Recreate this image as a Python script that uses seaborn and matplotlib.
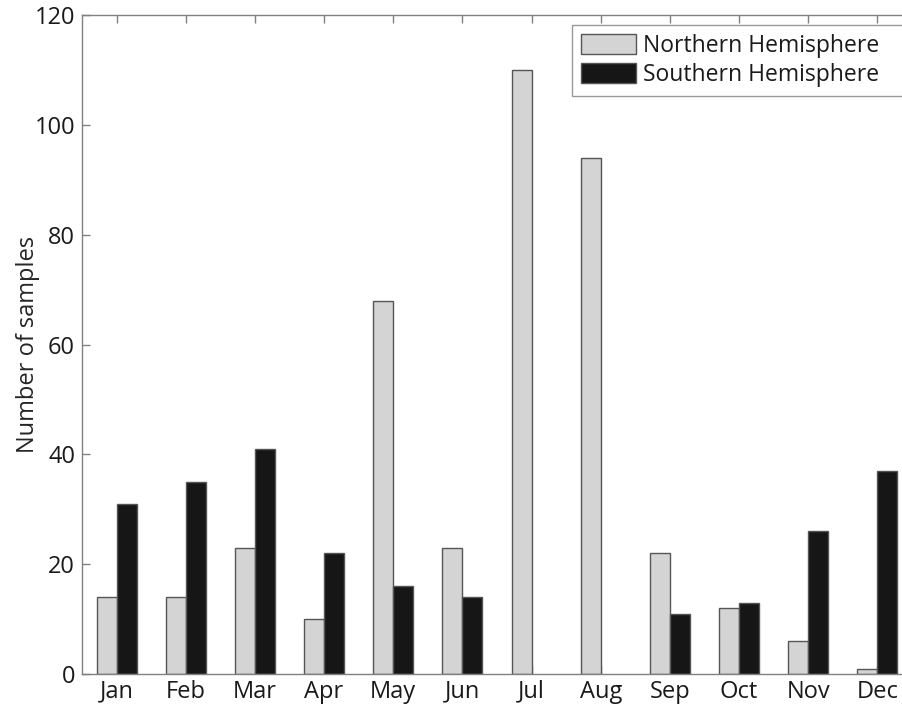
import matplotlib
matplotlib.use("Agg")
import matplotlib.pyplot as plt
from matplotlib.patches import Patch
import seaborn as sns
import pandas as pd

months = ["Jan", "Feb", "Mar", "Apr", "May", "Jun",
          "Jul", "Aug", "Sep", "Oct", "Nov", "Dec"]
northern = [14, 14, 23, 10, 68, 23, 110, 94, 22, 12, 6, 1]
southern = [31, 35, 41, 22, 16, 14, 0, 0, 11, 13, 26, 37]
series = ["Northern Hemisphere", "Southern Hemisphere"]
yticks = [0, 20, 40, 60, 80, 100, 120]
colors = {series[0]: "#d4d4d4", series[1]: "#161616"}
edge = "#555555"

df = pd.DataFrame({
    "month": months * 2,
    "count": northern + southern,
    "hemisphere": [series[0]] * 12 + [series[1]] * 12,
})

sns.set_style("white")
plt.rcParams["font.family"] = ["Open Sans", "DejaVu Sans"]

fig = plt.figure(figsize=(9.02, 7.08), dpi=100)
W, H = 902, 708
left, right, top, bottom = 82, 912, 15, 674
aw, ah = right - left, bottom - top
ax = fig.add_axes([left / W, 1 - bottom / H, aw / W, ah / H])

sns.barplot(data=df, x="month", y="count", hue="hemisphere",
            hue_order=series, order=months, palette=colors,
            width=0.58, gap=0, saturation=1, errorbar=None,
            edgecolor=edge, linewidth=1.0, legend=False, ax=ax)

# empty months get no outline
for container in ax.containers:
    for bar in container:
        if bar.get_height() == 0:
            bar.set_visible(False)

ax.set_xlim(-0.5, 11.5)
ax.set_ylim(0, 120)
ax.set_yticks(yticks)
ax.set_xlabel("")
ax.set_ylabel("Number of samples", fontsize=17, labelpad=-4)

for s in ax.spines.values():
    s.set_color("#808080")
    s.set_linewidth(1.0)
    s.set_visible(True)

ax.tick_params(axis="both", direction="in", length=6, width=1, color="#808080",
               labelsize=17, labelcolor="#1a1a1a", top=True, right=False, left=True, bottom=True)
ax.tick_params(axis="x", pad=4)
ax.tick_params(axis="y", pad=5)

handles = [Patch(facecolor=colors[s], edgecolor=edge, linewidth=1.0, label=s) for s in series]
x0 = (572 - left) / aw
leg = ax.legend(handles=handles, loc="upper left", mode="expand",
                bbox_to_anchor=(x0, 1 - 10 / ah, (910 - 572) / aw, 0),
                fontsize=16.5, frameon=True, fancybox=False, edgecolor="#808080",
                borderpad=0.4, handlelength=2.4, handleheight=0.95, handletextpad=0.3,
                labelspacing=0.2, borderaxespad=0)
leg.get_frame().set_linewidth(1.0)
for t in leg.get_texts():
    t.set_color("#1a1a1a")

fig.savefig("out.png", dpi=100)
